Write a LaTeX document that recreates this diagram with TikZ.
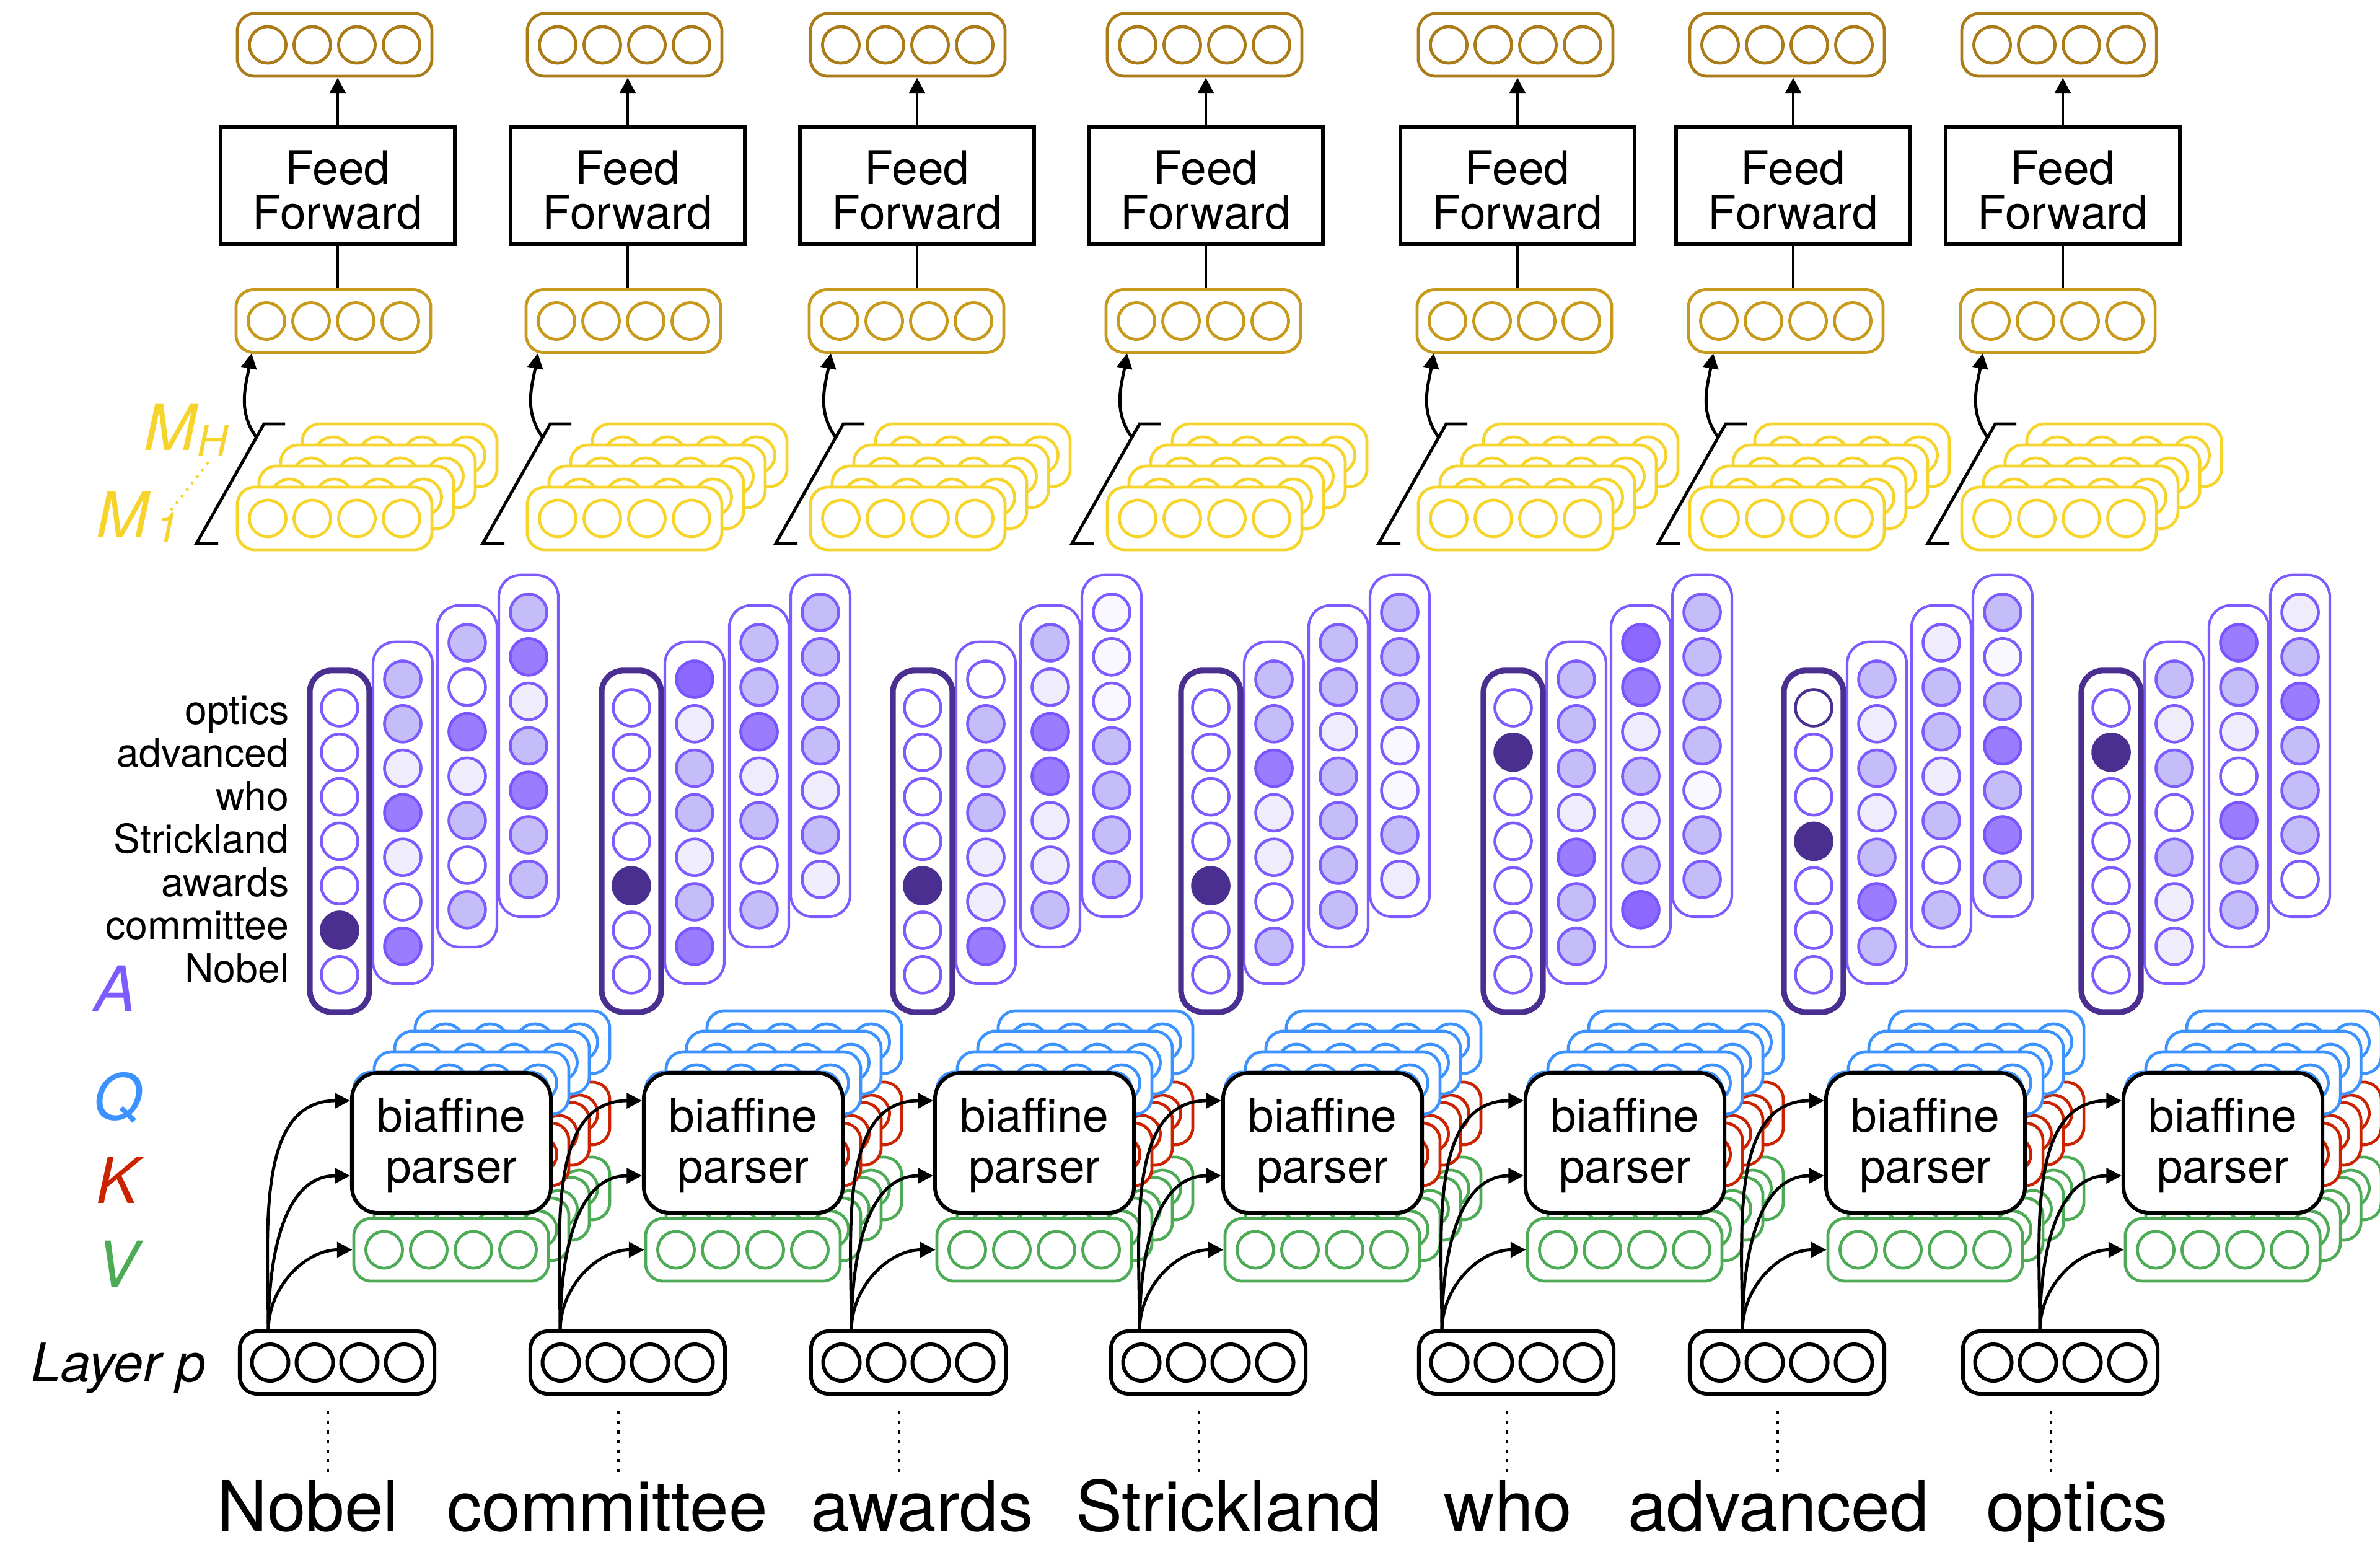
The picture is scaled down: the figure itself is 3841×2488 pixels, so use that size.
\documentclass[tikz,border=0pt]{standalone}
\usepackage{fontspec}
\setmainfont{TeX Gyre Heros}
\usetikzlibrary{arrows.meta,calc}

\definecolor{cTop}{HTML}{AA7B17}
\definecolor{cMid}{HTML}{C89A1C}
\definecolor{cYel}{HTML}{F7D42C}
\definecolor{cPur}{HTML}{7E5BFF}
\definecolor{cDark}{HTML}{4A2F91}
\definecolor{cBlue}{HTML}{3C93FF}
\definecolor{cRed}{HTML}{CB2200}
\definecolor{cGreen}{HTML}{4DAA55}
\definecolor{fW}{HTML}{FFFFFF}
\definecolor{fX}{HTML}{FFFFFF}
\definecolor{fD}{HTML}{4A2F91}
\definecolor{fC}{HTML}{C5BCFA}
\definecolor{fE}{HTML}{EFEDFC}
\definecolor{fF}{HTML}{F8F8FE}
\definecolor{fM}{HTML}{9A7CFF}
\definecolor{fN}{HTML}{8C68FF}
\colorlet{sW}{cPur}\colorlet{sC}{cPur}\colorlet{sE}{cPur}\colorlet{sF}{cPur}
\definecolor{sM}{HTML}{7A55FF}\colorlet{sN}{sM}
\colorlet{sD}{cDark}\colorlet{sX}{cDark}

\tikzset{
  vecbox/.style={rectangle, rounded corners=8pt, minimum width=3.14cm, minimum height=1.01cm, inner sep=0pt, fill=white},
  ffbox/.style={draw=black, line width=1.7pt, minimum width=3.77cm, minimum height=1.89cm, align=center, font=\fontsize{21.3}{20.5}\selectfont, inner sep=0pt, fill=white},
  bpbox/.style={draw=black, line width=1.7pt, rounded corners=12pt, minimum width=3.21cm, minimum height=2.26cm, align=center, font=\fontsize{21.3}{23.3}\selectfont, fill=white, inner sep=0pt},
  lbox/.style={draw=cPur, line width=1.2pt, rounded corners=10pt, minimum width=0.96cm, minimum height=5.508cm, fill=white, inner sep=0pt},
  dbox/.style={lbox, draw=cDark, line width=2.6pt},
  acirc/.style={line width=1.3pt},
  arr/.style={line width=1.4pt, -{Triangle[length=7pt,width=7pt]}},
  ln/.style={line width=1.4pt},
  brk/.style={line width=1.4pt},
  dotl/.style={line width=1.4pt, dash pattern=on 1.4pt off 3pt},
  word/.style={font=\fontsize{32}{32}\selectfont, anchor=base, inner sep=0pt},
  lab/.style={font=\fontsize{18.3}{18.3}\selectfont, anchor=base east, inner sep=0pt},
  qlab/.style={font=\fontsize{29}{29}\selectfont\itshape, anchor=base, inner sep=0pt},
}

% one vector: rounded box with four circles
\newcommand{\VecRow}[5]{%
  \node[vecbox, draw=#4, line width=#5] (#1) at ({#2},{-(#3)}) {};
  \foreach \k in {-108,-36,36,108}{\draw[draw=#4, line width=#5, fill=white] ({#2+(\k)},{-(#3)}) circle (29.5);}%
}
% stack of four vectors, back to front
\newcommand{\VecStack}[6]{%
  \foreach \s in {3,2,1,0}{\VecRow{#1\s}{#2+#5*\s}{#3-#6*\s}{#4}{1.35pt}}%
}
% one attention column
\newcommand{\AttnCol}[5]{%
  \node[#4] (#1) at ({#2},{-(#3+215.4)}) {};
  \foreach \fcode [count=\i from 0] in {#5}{%
    \edef\acfill{f\fcode}\edef\acstroke{s\fcode}%
    \draw[acirc, fill=\acfill, draw=\acstroke] ({#2},{-(#3+71.8*\i)}) circle (29.5);}%
}
\newcommand{\AttnGroup}[6]{%
  \AttnCol{#1d}{#2-20+305}{1142-154}{lbox}{#6}
  \AttnCol{#1c}{#2-20+206}{1142-105}{lbox}{#5}
  \AttnCol{#1b}{#2-20+102}{1142-46}{lbox}{#4}
  \AttnCol{#1a}{#2-20}{1142}{dbox}{#3}
}
% #1 idx #2 Ct #3 Cf #4 bracket x #5 layer-p centre #6 biaffine left #7 word x #8 word
\newcommand{\Column}[8]{%
  \VecRow{top#1}{#2}{72.5}{cTop}{1.35pt}
  \VecRow{mid#1}{#2-2}{518}{cMid}{1.35pt}
  \node[ffbox] (ff#1) at ({#3},-299.5) {\rule{0pt}{19.6pt}Feed\\Forward};
  \draw[arr] (ff#1.north) -- (ff#1.north |- top#1.south);
  \draw[ln] (ff#1.south) -- (ff#1.south |- mid#1.north);
  \VecStack{m#1}{#2}{836.5}{cYel}{35}{34}
  \draw[brk] ({#4+35},-877) -- ({#4},-877) -- ({#4+109},-684) -- ({#4+143},-684);
  \coordinate (ms#1) at ({#4+97},-706);
  \coordinate (mt#1) at ({#4+89},-570);
  \draw[arr] (ms#1) to[out=126,in=-100] (mt#1);
  \VecStack{v#1}{#6+160}{2016.5}{cGreen}{33}{33}
  \VecStack{k#1}{#6+160}{1895.5}{cRed}{33}{33}
  \VecStack{q#1}{#6+160}{1780.5}{cBlue}{33}{33}
  \node[bpbox] (bp#1) at ({#6+160.5},-1844) {\rule{0pt}{18.15pt}biaffine\\parser};
  \VecRow{lp#1}{#5}{2198.5}{black}{1.7pt}
  \coordinate (ls#1) at ({#6-135},-2148);
  \draw[arr] (ls#1) to[out=90,in=180] ([yshift=-0.48cm]bp#1.north west);
  \draw[arr] (ls#1) to[out=90,in=180] ([yshift=0.63cm]bp#1.south west);
  \draw[arr] (ls#1) to[out=90,in=180] (v#10.west);
  \node[word] (w#1) at ({#7},-2470) {#8};
  \draw[dotl] ([xshift=-0.15cm,yshift=-0.25cm]lp#1.south) -- ([xshift=-0.15cm,yshift=-1.23cm]lp#1.south);
}

\begin{document}
\begin{tikzpicture}[x=0.01cm,y=0.01cm]
\fill[white] (0,0) rectangle (3841,-2488);
\useasboundingbox (0,0) rectangle (3841,-2488);

\Column{1}{540}{545}{317}{544}{568}{497}{Nobel}
\Column{2}{1008}{1013}{779}{1013}{1039}{980}{committee}
\Column{3}{1465}{1480}{1252}{1466}{1509}{1488}{awards}
\Column{4}{1944}{1946}{1730}{1950}{1974}{1983}{Strickland}
\Column{5}{2446}{2449}{2225}{2447}{2462}{2434}{who}
\Column{6}{2884}{2894}{2676}{2884}{2947}{2870}{advanced}
\Column{7}{3323}{3329}{3111}{3325}{3427}{3352}{optics}

\AttnGroup{ga}{568}{W,W,W,W,W,D,W}{C,C,E,M,E,W,M}{C,W,M,E,C,W,C}{C,M,E,C,M,C,C}
\AttnGroup{gb}{1039}{W,W,W,W,D,W,W}{N,E,C,C,E,C,M}{C,C,M,E,C,W,C}{C,C,C,C,E,C,E}
\AttnGroup{gc}{1509}{W,W,W,W,D,W,W}{W,C,C,C,E,E,M}{C,E,M,M,E,E,C}{F,F,F,C,C,C,C}
\AttnGroup{gd}{1974}{W,W,W,W,D,W,W}{C,C,M,E,E,W,C}{C,C,E,C,C,C,C}{C,C,C,F,F,C,E}
\AttnGroup{ge}{2462}{W,D,W,W,W,W,W}{C,C,C,E,M,C,C}{N,M,E,C,E,C,N}{C,C,C,C,F,C,C}
\AttnGroup{gf}{2947}{X,W,W,D,W,W,W}{C,E,C,E,C,M,C}{E,C,C,E,C,W,C}{C,F,C,M,C,M,C}
\AttnGroup{gg}{3427}{W,D,W,W,W,W,W}{C,E,C,W,C,E,E}{M,C,E,W,M,C,C}{E,C,M,C,C,C,W}

% row labels
\node[lab] (r1) at (467,-1168) {optics};
\node[lab] (r2) at (467,-1237.5) {advanced};
\node[lab] (r3) at (467,-1307) {who};
\node[lab] (r4) at (467,-1376.5) {Strickland};
\node[lab] (r5) at (467,-1446) {awards};
\node[lab] (r6) at (467,-1515.5) {committee};
\node[lab] (r7) at (467,-1585) {Nobel};

% A Q K V labels
\node[qlab, text=cPur] (labA) at (186,-1632) {A};
\node[qlab, text=cBlue] (labQ) at (190,-1806) {Q};
\node[qlab, text=cRed] (labK) at (190,-1941) {K};
\node[qlab, text=cGreen] (labV) at (190,-2076) {V};
\node[anchor=base east, inner sep=0pt, font=\fontsize{24.5}{24.5}\selectfont\itshape] (labL) at (333,-2229) {Layer p};

% M labels
\node[anchor=base west, inner sep=0pt, text=cYel, font=\fontsize{29}{29}\selectfont\itshape] (labMH) at (232,-726) {M};
\node[anchor=base west, inner sep=0pt, text=cYel, font=\fontsize{19.5}{19.5}\selectfont\itshape] (labH) at (318,-735) {H};
\node[anchor=base west, inner sep=0pt, text=cYel, font=\fontsize{29}{29}\selectfont\itshape] (labM1) at (155,-867) {M};
\node[anchor=base west, inner sep=0pt, text=cYel, font=\fontsize{19.5}{19.5}\selectfont\itshape] (lab1) at (250,-875) {1};
\coordinate (yd1) at (336,-746);
\coordinate (yd2) at (273,-827);
\draw[cYel, line width=1.2pt, dash pattern=on 1.2pt off 2.6pt] (yd1) -- (yd2);
\end{tikzpicture}
\end{document}
